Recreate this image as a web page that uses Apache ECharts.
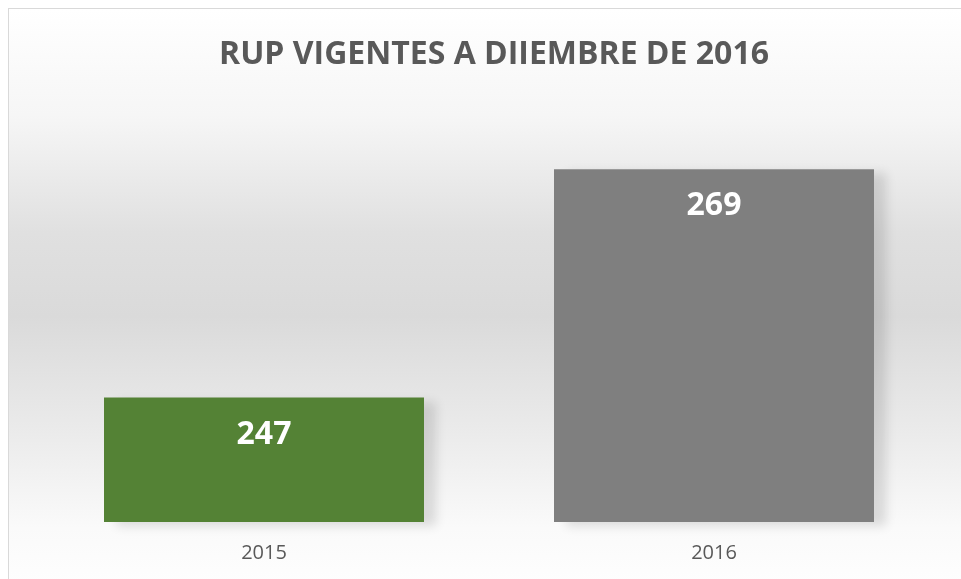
<!DOCTYPE html>
<html>
<head>
<meta charset="utf-8">
<script src="https://cdn.jsdelivr.net/npm/echarts@6/dist/echarts.min.js"></script>
<style>
  html, body { margin: 0; padding: 0; overflow: hidden; background: #fff; }
  #frame {
    position: absolute; left: 8px; top: 8px;
    width: 970px; height: 590px;
    border: 1px solid #d9d9d9;
    background: linear-gradient(to bottom, #ffffff 0%, #f6f6f6 18%, #e0e0e0 38%, #dadada 52%, #ebebeb 72%, #fafafa 88%, #ffffff 100%);
  }
  #chart { width: 970px; height: 590px; }
</style>
</head>
<body>
<div id="frame"><div id="chart"></div></div>
<script>
const titleText = "RUP VIGENTES A DIIEMBRE DE 2016";
const years = ["2015", "2016"];
const rupValues = [247, 269];
const barColors = ["#548235", "#7f7f7f"];

const chart = echarts.init(document.getElementById("chart"));

const option = {
  backgroundColor: "transparent",
  animation: false,
  title: {
    text: titleText,
    left: "center",
    top: 25,
    textStyle: {
      fontFamily: "Open Sans",
      fontWeight: "bold",
      fontSize: 32,
      color: "#595959",
    },
  },
  grid: { left: 30, width: 900, top: 150, height: 363 },
  xAxis: {
    type: "category",
    data: years,
    axisLine: { show: false },
    axisTick: { show: false },
    axisLabel: {
      margin: 21,
      fontFamily: "Open Sans",
      fontSize: 20,
      color: "#595959",
    },
  },
  yAxis: {
    type: "value",
    min: 235,
    max: 270,
    show: false,
    splitLine: { show: false },
  },
  series: [
    {
      type: "bar",
      barWidth: 320,
      data: rupValues.map((v, i) => ({ value: v, itemStyle: { color: barColors[i] } })),
      itemStyle: {
        shadowColor: "rgba(0,0,0,0.12)",
        shadowBlur: 10,
        shadowOffsetX: 12,
        shadowOffsetY: 4,
      },
      label: {
        show: true,
        position: "insideTop",
        distance: 21,
        fontFamily: "Open Sans",
        fontWeight: "bold",
        fontSize: 32,
        lineHeight: 32,
        color: "#ffffff",
      },
    },
  ],
};

chart.setOption(option);
</script>
</body>
</html>
